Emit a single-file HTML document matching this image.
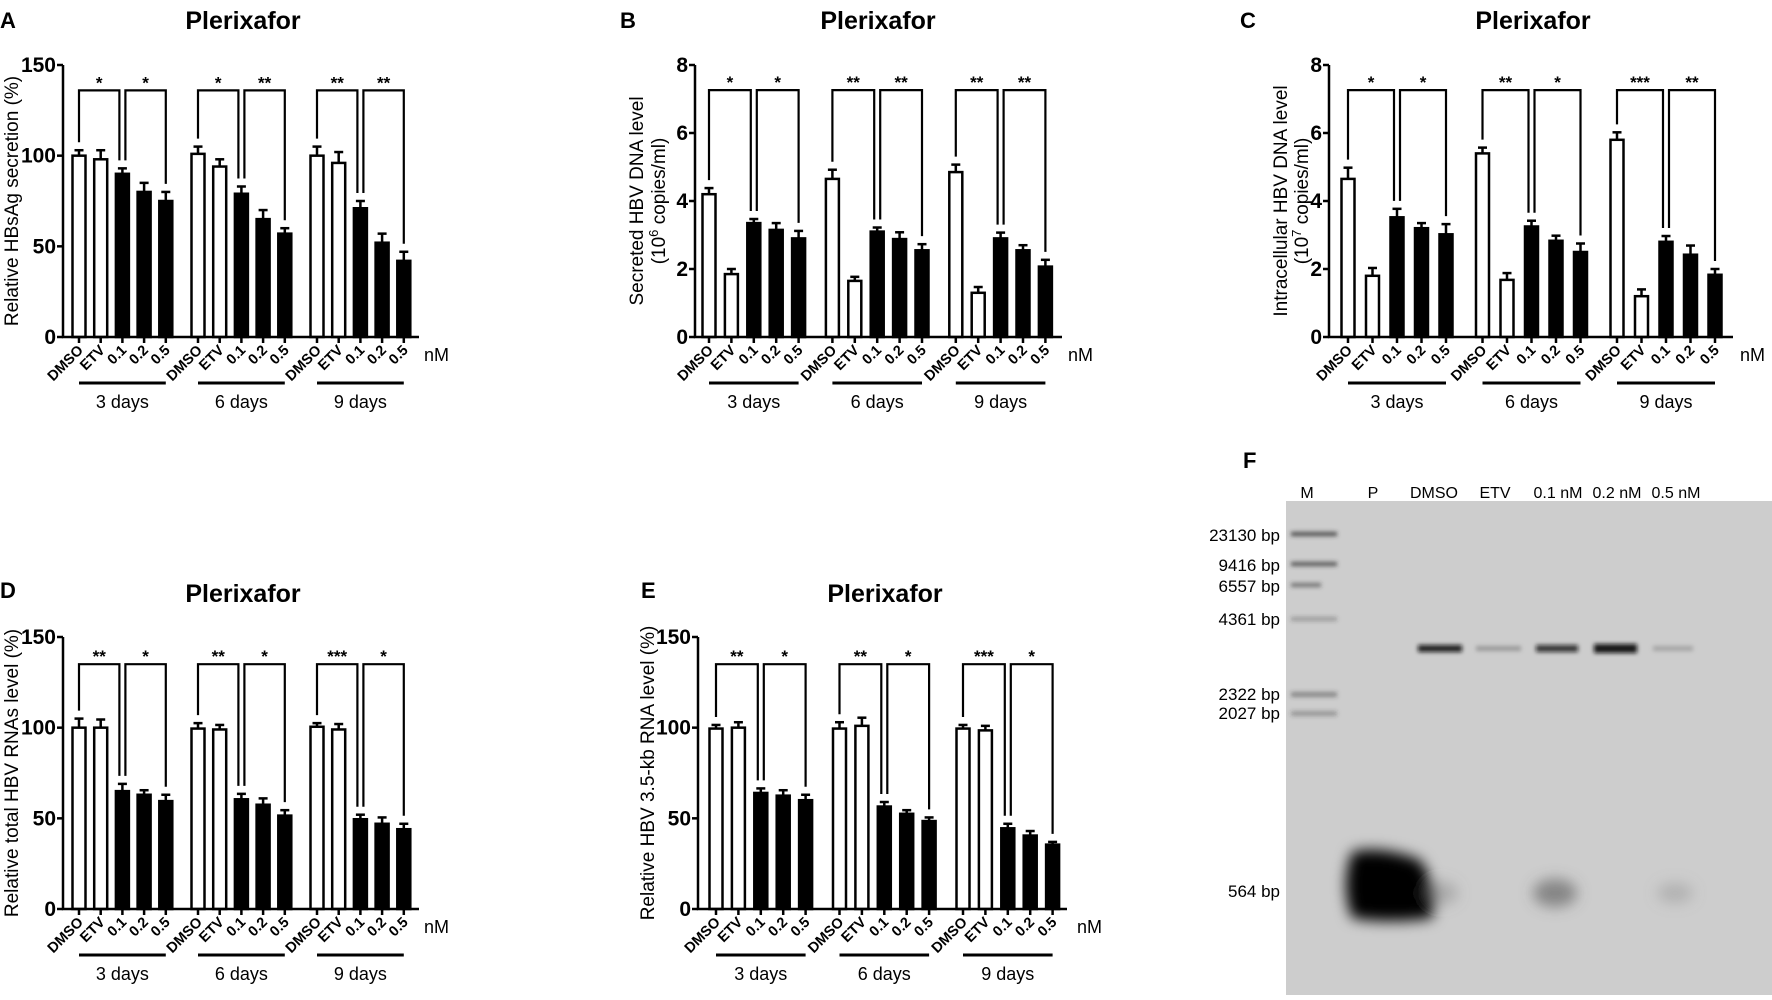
<!DOCTYPE html>
<html><head><meta charset="utf-8"><style>
html,body{margin:0;padding:0;background:#fff;}
svg{display:block;font-family:"Liberation Sans",Arial,sans-serif;}
</style></head><body>
<svg id="fig" width="1772" height="1000" viewBox="0 0 1772 1000" xmlns="http://www.w3.org/2000/svg">
<defs>
<filter id="blur2" x="-50%" y="-50%" width="200%" height="200%"><feGaussianBlur stdDeviation="2.2"/></filter>
<filter id="blur6" x="-50%" y="-50%" width="200%" height="200%"><feGaussianBlur stdDeviation="7"/></filter>
</defs>
<g id="panels"></g>
<g id="gel">
<text x="1243" y="468" font-size="22" font-weight="bold">F</text>
<rect x="1286" y="501" width="486" height="494" fill="#cdcdcd"/>
<g fill="#333" filter="url(#blur2)">
<rect x="1291" y="532" width="46" height="4" opacity="0.85"/>
<rect x="1291" y="562" width="46" height="4" opacity="0.8"/>
<rect x="1291" y="583" width="30" height="4" opacity="0.6"/>
<rect x="1291" y="617" width="46" height="4" opacity="0.35"/>
<rect x="1291" y="692" width="46" height="5" opacity="0.45"/>
<rect x="1291" y="711" width="46" height="5" opacity="0.35"/>
</g>
<g fill="#111" filter="url(#blur2)">
<rect x="1418" y="645" width="44" height="7" opacity="0.9"/>
<rect x="1476" y="646" width="45" height="5" opacity="0.25"/>
<rect x="1536" y="645" width="42" height="7" opacity="0.8"/>
<rect x="1594" y="644" width="43" height="9" opacity="0.95"/>
<rect x="1653" y="646" width="40" height="5" opacity="0.2"/>
</g>
<g filter="url(#blur6)">
<path d="M1352 852 Q1380 845 1420 860 Q1440 890 1432 918 Q1390 924 1352 918 Q1340 885 1352 852Z" fill="#000"/>
<ellipse cx="1555" cy="893" rx="22" ry="14" fill="#555" opacity="0.6"/>
<ellipse cx="1440" cy="893" rx="18" ry="12" fill="#777" opacity="0.4"/>
<ellipse cx="1675" cy="893" rx="18" ry="10" fill="#888" opacity="0.4"/>
</g>
<g font-size="16" text-anchor="middle">
<text x="1307" y="498">M</text><text x="1373" y="498">P</text><text x="1434" y="498">DMSO</text><text x="1495" y="498">ETV</text><text x="1558" y="498">0.1 nM</text><text x="1617" y="498">0.2 nM</text><text x="1676" y="498">0.5 nM</text>
</g>
<g font-size="17" text-anchor="end">
<text x="1280" y="541">23130 bp</text><text x="1280" y="571">9416 bp</text><text x="1280" y="592">6557 bp</text><text x="1280" y="625">4361 bp</text><text x="1280" y="700">2322 bp</text><text x="1280" y="719">2027 bp</text><text x="1280" y="897">564 bp</text>
</g>
</g>
</svg>
<script>
// ---- data ----
const categories = ["DMSO","ETV","0.1","0.2","0.5"];
const groups = ["3 days","6 days","9 days"];
const valsA = [100,98,90,80,75, 101,94,79,65,57, 100,96,71,52,42];
const errA  = [3,5,3,5,5, 4,4,4,5,3, 5,6,4,5,5];
const valsB = [4.2,1.85,3.35,3.15,2.9, 4.65,1.65,3.1,2.88,2.55, 4.85,1.3,2.9,2.55,2.07];
const errB  = [0.18,0.15,0.12,0.2,0.22, 0.27,0.12,0.12,0.2,0.18, 0.22,0.17,0.17,0.15,0.2];
const valsC = [4.65,1.8,3.52,3.2,3.02, 5.4,1.68,3.25,2.83,2.5, 5.8,1.2,2.8,2.42,1.83];
const errC  = [0.33,0.23,0.25,0.15,0.3, 0.17,0.2,0.17,0.15,0.25, 0.22,0.2,0.17,0.27,0.17];
const valsD = [100,100,65,63,59.5, 99.5,99,60.5,57.5,51.5, 100.5,99,49.5,47,44];
const errD  = [5,4.5,4,2.5,3.5, 3,2.5,3,3.5,3, 2,3,2.5,3.5,3];
const valsE = [99.5,100,64,62.5,60, 99.5,101,56.5,52.5,48.5, 99.5,98.5,44.5,40.5,35.5];
const errE  = [2,3,2.5,3,3, 3.5,4.5,2.5,2,2, 2,2.5,2.5,2.5,1.5];
const starsA = ["*","*","*","**","**","**"];
const starsB = ["*","*","**","**","**","**"];
const starsC = ["*","*","**","*","***","**"];
const starsD = ["**","*","**","*","***","*"];
const starsE = ["**","*","**","*","***","*"];
const ticksPct = [0,50,100,150];
const ticksDNA = [0,2,4,6,8];

const NS="http://www.w3.org/2000/svg";
const root=document.getElementById("panels");
function mk(tag,attrs,parent,text){const e=document.createElementNS(NS,tag);for(const k in attrs)e.setAttribute(k,attrs[k]);if(text!==undefined)e.textContent=text;(parent||root).appendChild(e);return e;}

function panel(cfg){
  const g=mk("g",{});
  
  
  const y=v=>cfg.y0-(v/cfg.ymax)*(cfg.y0-cfg.ytop);
  const xs=[];
  for(let gi=0;gi<3;gi++)for(let i=0;i<5;i++)xs.push(cfg.x0+gi*cfg.gstep+i*cfg.step);
  const L=mk("text",{x:cfg.lx,y:cfg.ly,"font-size":22,"font-weight":"bold"},g,cfg.letter);
  
  
  const T=mk("text",{x:cfg.tx,y:cfg.ty,"font-size":25,"font-weight":"bold","text-anchor":"middle"},g,"Plerixafor");
  
  
  cfg.ylabel.forEach((ln,k)=>{
    const t=mk("text",{"font-size":19,"text-anchor":"middle",transform:`translate(${cfg.ylx[k]},${(cfg.y0+cfg.ytop)/2}) rotate(-90)`},g);
    
    
    t.innerHTML=ln;
  });
  const vals=cfg.vals, err=cfg.err;
  xs.forEach((x,i)=>{
    const open=(i%5)<2;
    const top=y(vals[i]), ytopE=y(vals[i]+err[i]);
    const e=mk("line",{x1:x,x2:x,y1:top,y2:ytopE,stroke:"#000","stroke-width":2.5},g);
    
    
    const c=mk("line",{x1:x-4.5,x2:x+4.5,y1:ytopE,y2:ytopE,stroke:"#000","stroke-width":2.5},g);
    
    
    const r=mk("rect",{x:x-6.5,y:top,width:13,height:cfg.y0-top,fill:open?"#fff":"#000",stroke:"#000","stroke-width":2.5},g);
    
    
  });
  const xend=cfg.xend;
  const ax=mk("path",{d:`M${cfg.ax} ${cfg.ytop}V${cfg.y0}H${xend}`,fill:"none",stroke:"#000","stroke-width":2.5},g);
  
  
  cfg.ticks.forEach(v=>{
    mk("line",{x1:cfg.ax-6,x2:cfg.ax,y1:y(v),y2:y(v),stroke:"#000","stroke-width":2.5},g);
    const t=mk("text",{x:cfg.ax-7,y:y(v)+7,"font-size":21,"font-weight":"bold","text-anchor":"end"},g,String(v));
    
    
  });
  xs.forEach((x,i)=>{
    mk("line",{x1:x,x2:x,y1:cfg.y0,y2:cfg.y0+6,stroke:"#000","stroke-width":2.5},g);
    const t=mk("text",{"font-size":14.5,"font-weight":"bold","text-anchor":"end",transform:`translate(${x+5},${cfg.y0+14}) rotate(-45)`},g,categories[i%5]);
    
    
  });
  const nm=mk("text",{x:cfg.nmx,y:cfg.y0+24,"font-size":18},g,"nM");
  
  
  groups.forEach((gn,gi)=>{
    const a=xs[gi*5],b=xs[gi*5+4];
    const u=mk("line",{x1:a,x2:b,y1:cfg.y0+46,y2:cfg.y0+46,stroke:"#000","stroke-width":3},g);
    
    
    const t=mk("text",{x:(a+b)/2,y:cfg.y0+71,"font-size":18,"text-anchor":"middle"},g,gn);
    
    
    const by=y(cfg.bv);
    const leg=i=>y(vals[gi*5+i]+err[gi*5+i])-8;
    const pairs=[[0,2],[2,4]];
    pairs.forEach((p,k)=>{
      const xa=xs[gi*5+p[0]]+(k===1?3:0), xb=xs[gi*5+p[1]]+(k===0?-3:0);
      const br=mk("path",{d:`M${xa} ${leg(p[0])}V${by}H${xb}V${leg(p[1])}`,fill:"none",stroke:"#000","stroke-width":2.2},g);
      
      
      const s=mk("text",{x:(xa+xb)/2,y:by-2,"font-size":17,"font-weight":"bold","text-anchor":"middle"},g,cfg.stars[gi*2+k]);
      
      
    });
  });
}

panel({letter:"A",lx:0,ly:28,tx:243,ty:29,ylx:[18],ylabel:["Relative HBsAg secretion (%)"],
  ax:63,xend:419,ytop:65,y0:337,ymax:150,ticks:ticksPct,x0:79,step:21.7,gstep:119,nmx:424,
  vals:valsA,err:errA,stars:starsA,bv:136});
panel({letter:"B",lx:620,ly:28,tx:878,ty:29,ylx:[643,665],ylabel:["Secreted HBV DNA level","(10<tspan baseline-shift='super' font-size='13'>6</tspan> copies/ml)"],
  ax:695,xend:1062,ytop:65,y0:337,ymax:8,ticks:ticksDNA,x0:709,step:22.4,gstep:123.4,nmx:1068,
  vals:valsB,err:errB,stars:starsB,bv:7.26});
panel({letter:"C",lx:1240,ly:28,tx:1533,ty:29,ylx:[1287,1308],ylabel:["Intracellular HBV DNA level","(10<tspan baseline-shift='super' font-size='13'>7</tspan> copies/ml)"],
  ax:1329,xend:1733,ytop:65,y0:337,ymax:8,ticks:ticksDNA,x0:1348,step:24.5,gstep:134.5,nmx:1740,
  vals:valsC,err:errC,stars:starsC,bv:7.26});
panel({letter:"D",lx:0,ly:598,tx:243,ty:602,ylx:[18],ylabel:["Relative total HBV RNAs level (%)"],
  ax:63,xend:419,ytop:637,y0:909,ymax:150,ticks:ticksPct,x0:79,step:21.7,gstep:119,nmx:424,
  vals:valsD,err:errD,stars:starsD,bv:135});
panel({letter:"E",lx:641,ly:598,tx:885,ty:602,ylx:[654],ylabel:["Relative HBV 3.5-kb RNA level (%)"],
  ax:698,xend:1067,ytop:637,y0:909,ymax:150,ticks:ticksPct,x0:716,step:22.4,gstep:123.5,nmx:1077,
  vals:valsE,err:errE,stars:starsE,bv:135});
</script>
</body></html>
